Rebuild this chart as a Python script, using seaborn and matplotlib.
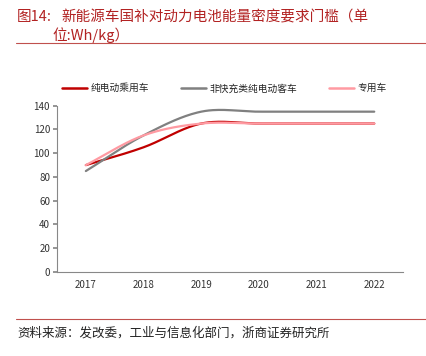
import numpy as np
import pandas as pd
import matplotlib
matplotlib.use("Agg")
import matplotlib.pyplot as plt
import seaborn as sns

years = ["2017", "2018", "2019", "2020", "2021", "2022"]
passenger = [90, 105, 125, 125, 125, 125]
bus = [85, 115, 135, 135, 135, 135]
special = [90, 115, 125, 125, 125, 125]
series_names = ["纯电动乘用车", "非快充类纯电动客车", "专用车"]
yticks = [0, 20, 40, 60, 80, 100, 120, 140]

sns.set_theme(style="white")
plt.rcParams['font.family'] = ['Noto Sans CJK SC', 'DejaVu Sans']


def smooth(vals, n=30):
    # Catmull-Rom rendering of the series (Excel-style smoothed line)
    p = np.array(vals, dtype=float)
    x = np.arange(len(p), dtype=float)
    P = np.concatenate([[2 * p[0] - p[1]], p, [2 * p[-1] - p[-2]]])
    X = np.concatenate([[x[0] - 1], x, [x[-1] + 1]])
    xs, ys = [], []
    for i in range(1, len(P) - 2):
        t = np.linspace(0, 1, n, endpoint=False)
        for arr, out in ((X, xs), (P, ys)):
            p0, p1, p2, p3 = arr[i - 1], arr[i], arr[i + 1], arr[i + 2]
            out.extend(0.5 * ((2 * p1) + (-p0 + p2) * t +
                              (2 * p0 - 5 * p1 + 4 * p2 - p3) * t ** 2 +
                              (-p0 + 3 * p1 - 3 * p2 + p3) * t ** 3))
    xs.append(x[-1]); ys.append(p[-1])
    return np.array(xs), np.array(ys)


rows = []
for name, vals in zip(series_names, [passenger, bus, special]):
    sx, sy = smooth(vals)
    for a, b in zip(sx, sy):
        rows.append({"x": a, "y": b, "s": name})
df = pd.DataFrame(rows)

colors = {"纯电动乘用车": "#C00000", "非快充类纯电动客车": "#808080", "专用车": "#FF9AA2"}

fig = plt.figure(figsize=(4.27, 3.56), dpi=100)
ax = fig.add_axes([0.1335, 0.236, 0.8105, 0.467])
sns.lineplot(data=df, x="x", y="y", hue="s", palette=colors, ax=ax,
             linewidth=1.6, sort=False, estimator=None, legend=False,
             hue_order=series_names)

ax.set_xlim(-0.5, len(years) - 0.5)
ax.set_ylim(0, 140)
ax.set_yticks(yticks)
ax.set_yticklabels([str(v) for v in yticks], fontsize=7, color="#333333")
ax.set_xticks(range(len(years)))
ax.set_xticklabels(years, fontsize=7, color="#333333")
ax.set_xticks(np.arange(-0.5, len(years)), minor=True)
ax.tick_params(axis="x", which="major", length=0, pad=6)
ax.tick_params(axis="x", which="minor", length=3, color="#888888", direction="out")
ax.tick_params(axis="y", length=3, color="#888888", direction="out", pad=2, left=True)
ax.set_xlabel(""); ax.set_ylabel("")
for s in ["top", "right"]:
    ax.spines[s].set_visible(False)
for s in ["left", "bottom"]:
    ax.spines[s].set_color("#888888")
    ax.spines[s].set_linewidth(0.8)

from matplotlib.lines import Line2D
handles = [Line2D([0], [0], color=colors[n], lw=1.8) for n in series_names]
fig.legend(handles, series_names, loc="center", bbox_to_anchor=(0.525, 0.752),
           ncol=3, frameon=False, fontsize=7, handlelength=2.6,
           columnspacing=3.3, handletextpad=0.3)

fig.text(0.04, 0.952, "图14:", fontsize=10.5, color="#B22222", va="center")
fig.text(0.145, 0.952, "新能源车国补对动力电池能量密度要求门槛（单", fontsize=10.5,
         color="#B22222", va="center")
fig.text(0.122, 0.900, "位:Wh/kg）", fontsize=10.5, color="#B22222", va="center")
fig.add_artist(Line2D([0.038, 1.0], [0.878, 0.878], color="#C0504D", lw=0.8,
                      transform=fig.transFigure))
fig.add_artist(Line2D([0.038, 1.0], [0.104, 0.104], color="#C0504D", lw=0.8,
                      transform=fig.transFigure))
fig.text(0.04, 0.065, "资料来源：发改委，工业与信息化部门，浙商证券研究所", fontsize=9,
         color="#222222", va="center")

fig.savefig("out.png", dpi=100)
